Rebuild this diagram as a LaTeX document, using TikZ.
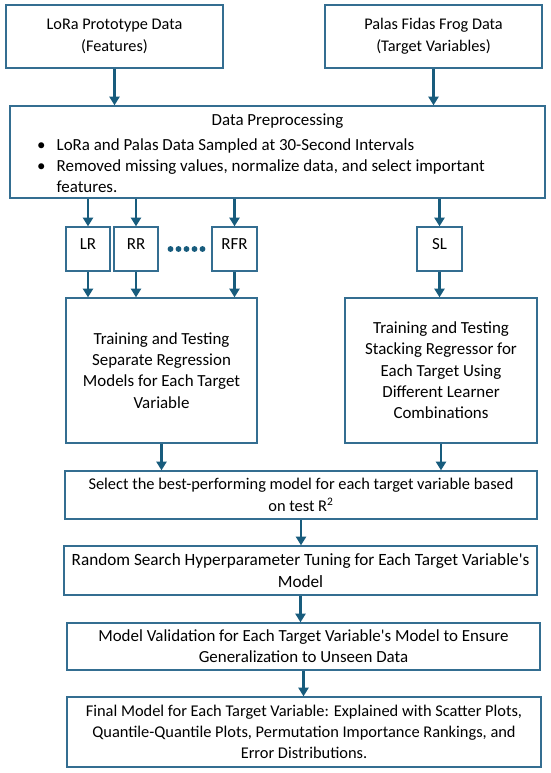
\documentclass[tikz,border=0pt]{standalone}
\usepackage{fontspec}
\setmainfont{Carlito}
\usepackage{enumitem}
\usetikzlibrary{arrows.meta}

\definecolor{boxline}{RGB}{52,110,145}
\definecolor{arrowblue}{RGB}{24,92,125}

\begin{document}
\begin{tikzpicture}[x=0.75pt, y=-0.75pt,
        box/.style 2 args={draw=boxline, line width=1pt, align=center, inner sep=0pt,
            minimum width=#1, minimum height=#2, font=\fontsize{12.7}{16}\selectfont},
        model/.style={box={33pt}{33pt}, text depth=7.5pt},
        flow/.style={arrowblue, line width=2.2pt, -{Triangle[length=6.5pt, width=7.5pt]}}]
    \useasboundingbox (0,0) rectangle (550,773);

    % data sources
    \node[box={162.75pt}{47.25pt}, font=\fontsize{12.2}{16.5}\selectfont] (feat) at (114.5, 36.5)
        {LoRa Prototype Data\\(Features)};
    \node[box={162.75pt}{47.25pt}, font=\fontsize{12.2}{16.5}\selectfont] (targ) at (433.5, 36.5)
        {Palas Fidas Frog Data\\(Target Variables)};

    \node[box={401.25pt}{69pt}] (prep) at (277.5, 152) {%
        \raisebox{-2.4pt}[\height][\depth]{\parbox{401.25pt}{%
            {\centering Data Preprocessing\par}
            \begin{itemize}[leftmargin=35pt, labelsep=8.25pt, itemsep=0pt, parsep=0pt,
                    topsep=2.25pt, partopsep=0pt, label=\textbullet]
                \item LoRa and Palas Data Sampled at 30-Second Intervals
                \item Removed missing values, normalize data, and select important\\features.
            \end{itemize}}}};

    % regressors
    \node[model] (lr) at (88, 249) {LR};
    \node[model] (rr) at (136, 249) {RR};
    \node[model, minimum width=33.75pt] (rfr) at (234.5, 249) {RFR};
    \node[model, minimum width=33.75pt] (sl) at (439.5, 249) {SL};
    \foreach \i in {0,...,4}
        \fill[arrowblue] (170.5+8*\i, 249) circle (2.2pt);

    \node[box={143.25pt}{108.75pt}] (sep) at (161.5, 370.5)
        {Training and Testing\\Separate Regression\\Models for Each Target\\Variable};
    \node[box={144pt}{108.75pt}] (stack) at (441, 370.5)
        {Training and Testing\\Stacking Regressor for\\Each Target Using\\Different Learner\\Combinations};

    % model selection and tuning
    \node[box={354pt}{36pt}, font=\fontsize{12.3}{16}\selectfont] (sel) at (301, 495)
        {Select the best-performing model for each target variable based\\on test R\textsuperscript{2}};
    \node[box={354.75pt}{36.75pt}, font=\fontsize{12.9}{16.5}\selectfont] (rand) at (300.5, 570.5)
        {Random Search Hyperparameter Tuning for Each Target Variable\textquotesingle s\\Model};
    \node[box={354.75pt}{35.25pt}] (val) at (303.5, 646.5)
        {Model Validation for Each Target Variable\textquotesingle s Model to Ensure\\Generalization to Unseen Data};
    \node[box={355.5pt}{52.5pt}, font=\fontsize{12.3}{16}\selectfont] (fin) at (304, 732)
        {Final Model for Each Target Variable: Explained with Scatter Plots,\\Quantile-Quantile Plots, Permutation Importance Rankings, and\\Error Distributions.};

    % connectors
    \draw[flow] (feat) -- (feat |- prep.north);
    \draw[flow] (targ) -- (targ |- prep.north);
    \foreach \m in {lr, rr, rfr, sl}
        \draw[flow] (prep.south -| \m) -- (\m);
    \foreach \m in {lr, rr, rfr}
        \draw[flow] (\m) -- (\m |- sep.north);
    \draw[flow] (sl) -- (sl |- stack.north);
    \draw[flow] (sep) -- (sep |- sel.north);
    \draw[flow] (stack) -- (stack |- sel.north);
    \draw[flow] (sel) -- (sel |- rand.north);
    \draw[flow] (rand) -- (rand |- val.north);
    \draw[flow] (val) -- (val |- fin.north);
\end{tikzpicture}
\end{document}
